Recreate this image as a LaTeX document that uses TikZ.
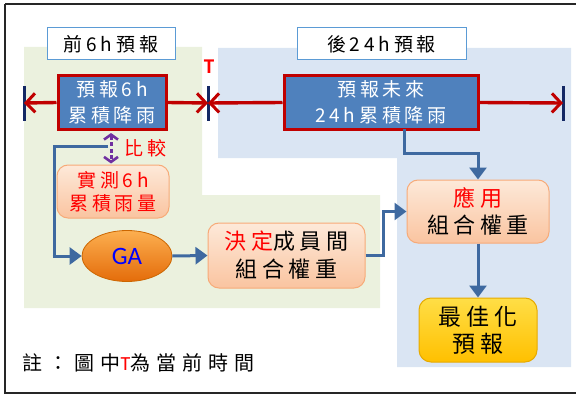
\documentclass[tikz,border=0pt]{standalone}
\usepackage{fontspec}
\setmainfont{Noto Sans CJK TC}[LetterSpace=20]
\newfontfamily\latinf{Carlito}
\usetikzlibrary{arrows.meta,shapes.geometric,calc}
\definecolor{greenbg}{RGB}{235,241,222}
\definecolor{bluebg}{RGB}{218,229,243}
\definecolor{hdrline}{RGB}{91,155,213}
\definecolor{boxblue}{RGB}{79,129,189}
\definecolor{darkred}{RGB}{192,0,0}
\definecolor{tickblue}{RGB}{20,40,100}
\definecolor{connblue}{RGB}{62,105,160}
\definecolor{peachtop}{RGB}{253,233,217}
\definecolor{peachbot}{RGB}{250,196,160}
\definecolor{peachline}{RGB}{247,170,120}
\definecolor{gatop}{RGB}{252,175,80}
\definecolor{gabot}{RGB}{228,108,10}
\definecolor{yeltop}{RGB}{255,222,70}
\definecolor{yelbot}{RGB}{255,192,0}
\definecolor{yelline}{RGB}{230,170,0}
\definecolor{purp}{RGB}{112,48,160}
\tikzset{
  hdr/.style={draw=hdrline,line width=1pt,fill=white,minimum height=32pt,inner sep=0pt,font=\fontsize{19}{22}\selectfont},
  fcbox/.style={draw=darkred,line width=3pt,fill=boxblue,text=white,minimum height=53pt,inner sep=0pt,align=center,font=\fontsize{19}{26}\selectfont},
  peach/.style={draw=peachline,line width=1pt,rounded corners=11pt,top color=peachtop,bottom color=peachbot,inner sep=0pt,align=center},
  redarr/.style={draw=darkred,line width=3.4pt,-{Straight Barb[length=9pt,width=19pt,line width=3pt]}},
  tick/.style={draw=tickblue,line width=3pt},
  conn/.style={draw=connblue,line width=3pt,-{Triangle[length=12pt,width=17pt]}},
  connline/.style={draw=connblue,line width=3pt},
}
\begin{document}
\begin{tikzpicture}[x=1pt,y=-1pt]
\useasboundingbox (0,0) rectangle (576,396);
% frame
\draw[line width=2.2pt,black!85] (5,4) -- (580,4);
\draw[line width=2.2pt,black!85] (5,4) -- (5,393) -- (580,393);
% regions
\fill[greenbg] (24,47) -- (202,47) -- (202,195) -- (380,195) -- (380,308) -- (24,308) -- cycle;
\fill[bluebg] (218,48) -- (571,48) -- (571,367) -- (397,367) -- (397,158) -- (218,158) -- cycle;
% headers
\node[hdr,minimum width=128pt] (h1) at (111,44) {前6h預報};
\node[hdr,minimum width=169pt] (h2) at (381.5,44) {後24h預報};
% ticks
\coordinate (tL) at (24,103);
\coordinate (tM) at (208,103);
\coordinate (tR) at (563,103);
\draw[tick] (24,86) -- (24,121);
\draw[tick] (208,86) -- (208,121);
\draw[tick] (563,86) -- (563,121);
\node[text=red,font=\latinf\bfseries\fontsize{21}{24}\selectfont] (T) at (209,67) {T};
% forecast boxes
\node[fcbox,minimum width=108pt] (b1) at (112,102.5) {預報6h\\累積降雨};
\node[fcbox,minimum width=194pt] (b2) at (381,102.5) {預報未來\\24h累積降雨};
\draw[redarr] (b1.west) -- (tL);
\draw[redarr] (b1.east) -- (tM);
\draw[redarr] (b2.west) -- (tM);
\draw[redarr] (b2.east) -- (tR);
% observed
\node[peach,minimum width=112pt,minimum height=53pt,text=red,font=\fontsize{19}{23}\selectfont] (obs) at (113,191.5) {實測6h\\累積雨量};
\draw[purp,line width=3pt,dash pattern=on 4pt off 2.5pt,{Straight Barb[length=5pt,width=14pt,line width=2.6pt]}-{Straight Barb[length=5pt,width=14pt,line width=2.6pt]}] ($(b1.south)+(-1,2.5)$) -- ($(obs.north)+(-2,-1)$);
\node[text=red,font=\fontsize{19}{22}\selectfont,anchor=west] (cmp) at (121,148) {比較};
% GA
\node[ellipse,draw=orange!80!black,line width=0.8pt,top color=gatop,bottom color=gabot,minimum width=90pt,minimum height=51pt,inner sep=0pt,text=blue,font=\latinf\fontsize{25}{28}\selectfont] (ga) at (127,256) {GA};
\coordinate (cs) at (108,146);
\draw[connline] (cs) -- (54,146) -- (54,256);
\draw[conn] (52.5,256) -- (ga.west);
% decide
\node[peach,minimum width=157pt,minimum height=65pt,font=\fontsize{22}{28}\selectfont] (dec) at (286.5,255.5) {\textcolor{red}{決定}成員間\\組合權重};
\draw[conn] (ga.east) -- (dec.west);
% apply
\node[peach,minimum width=142pt,minimum height=63pt,font=\fontsize{22}{27}\selectfont] (app) at (478,211.5) {\textcolor{red}{應用}\\組合權重};
\draw[conn] (dec.east) -- (383,255.5) |- (app.west);
\draw[conn] (404,129) -- (404,153) -| (app.north);
% optimal
\node[draw=yelline,line width=1pt,rounded corners=12pt,top color=yeltop,bottom color=yelbot,minimum width=118pt,minimum height=64pt,inner sep=0pt,align=center,font=\fontsize{23}{27}\selectfont] (opt) at (478,330) {最佳化\\預報};
\draw[conn] (app.south) -- (opt.north);
% note
\node[anchor=west,font=\fontsize{20}{22}\selectfont\addfontfeature{LetterSpace=30}] (note) at (19,363) {註：圖中\textcolor{red}{\latinf T}為當前時間};
\end{tikzpicture}
\end{document}
